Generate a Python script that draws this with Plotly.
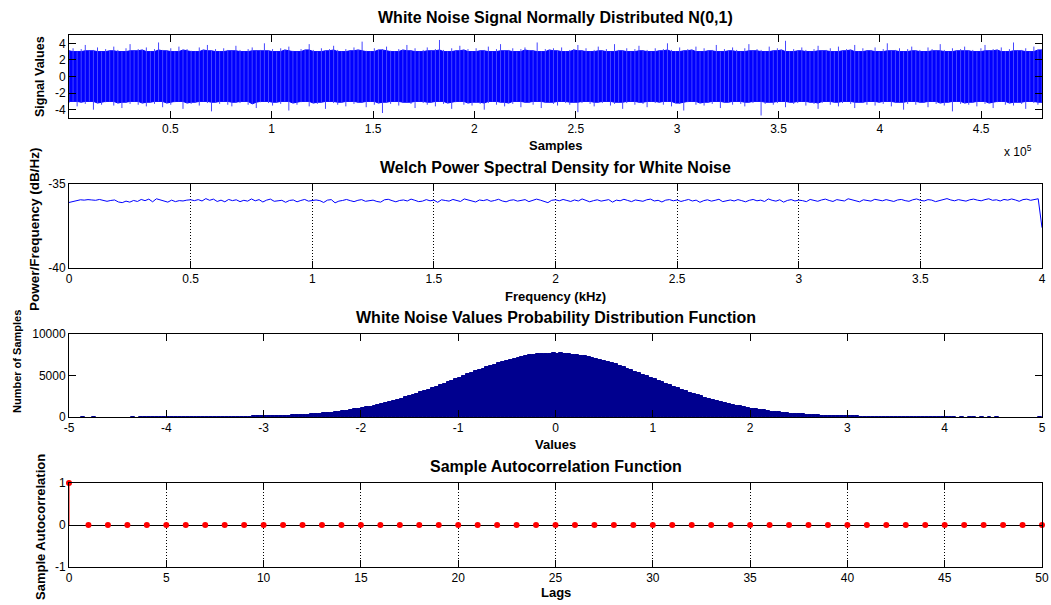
import numpy as np
import plotly.graph_objects as go

W, H = 1051, 605

# ---------------- data ----------------
n_samples = 480000
signal_upper = [
    3.1,3.4,3.0,3.3,3.8,3.1,3.2,3.5,3.0,3.3,3.1,3.6,3.2,3.0,3.4,3.9,3.1,3.3,3.2,3.5,
    3.0,3.3,4.1,3.2,3.1,3.4,3.0,3.6,3.2,3.3,3.1,3.0,3.5,3.2,3.8,3.1,3.3,3.0,3.4,3.2,
    3.1,3.7,3.2,3.0,3.3,3.5,3.1,3.2,4.0,3.1,3.3,3.0,3.4,3.2,3.6,3.1,3.0,3.3,3.2,3.9,
    3.2,3.0,3.4,3.1,3.3,3.7,3.2,3.0,3.3,3.1,3.5,3.2,4.2,3.1,3.0,3.4,3.2,3.3,3.6,3.1,
    3.0,3.3,3.2,3.8,3.1,3.4,3.0,3.2,3.5,3.1,3.3,4.4,3.2,3.0,3.4,3.1,3.7,3.2,3.3,3.0,
    3.4,3.1,3.2,3.6,3.0,3.3,3.9,3.1,3.2,3.4,3.0,3.3,3.5,3.2,3.1,4.1,3.0,3.3,3.2,3.4,
    3.1,3.5,3.0,3.2,3.3,3.8,3.1,3.4,3.0,3.2,3.6,3.1,3.3,3.0,3.9,3.2,3.1,3.4,3.0,3.3,
    3.7,3.1,3.2,3.0,3.4,3.1,3.3,4.0,3.2,3.0,3.5,3.1,3.3,3.2,3.6,3.0,3.4,3.1,3.2,3.8,
    3.0,3.3,3.1,3.5,3.2,3.0,3.4,3.9,3.1,3.3,3.2,3.0,3.6,3.1,3.4,3.2,4.3,3.0,3.3,3.1,
    3.5,3.2,3.0,3.3,3.7,3.1,3.2,3.4,3.0,3.6,3.1,3.3,3.2,3.8,3.0,3.4,3.1,3.2,3.5,3.0,
    3.3,4.0,3.1,3.2,3.4,3.0,3.3,3.6,3.1,3.2,3.0,3.5,3.3,3.1,3.9,3.2,3.0,3.4,3.1,3.3,
    3.6,3.1,3.2,3.0,3.4,3.8,3.1,3.3,3.2,3.5,3.0,3.3,4.1,3.1,3.2,3.4,3.0,3.6,3.2,3.3,
]
signal_lower = [
    -3.2,-3.0,-3.6,-3.1,-3.3,-3.0,-4.0,-3.2,-3.4,-3.1,-3.0,-3.5,-3.2,-3.8,-3.1,-3.3,-3.0,-3.4,-3.2,-3.6,
    -3.1,-3.3,-3.0,-3.7,-3.2,-3.4,-3.1,-3.0,-3.9,-3.2,-3.3,-3.1,-3.5,-3.0,-3.2,-4.2,-3.1,-3.3,-3.0,-3.4,
    -3.6,-3.1,-3.2,-3.0,-3.4,-3.3,-3.8,-3.1,-3.0,-3.2,-3.5,-3.1,-3.3,-3.0,-4.1,-3.2,-3.4,-3.1,-3.0,-3.6,
    -3.2,-3.3,-3.1,-3.9,-3.0,-3.2,-3.4,-3.1,-3.6,-3.0,-3.3,-3.2,-3.1,-3.7,-3.0,-3.4,-3.2,-4.4,-3.1,-3.3,
    -3.0,-3.5,-3.2,-3.1,-3.3,-3.8,-3.0,-3.2,-3.4,-3.1,-3.6,-3.0,-3.3,-3.2,-3.9,-3.1,-3.0,-3.4,-3.2,-3.5,
    -3.1,-3.3,-4.0,-3.2,-3.0,-3.4,-3.1,-3.6,-3.2,-3.3,-3.0,-3.7,-3.1,-3.2,-3.4,-3.0,-3.8,-3.2,-3.1,-3.3,
    -3.5,-3.0,-3.2,-3.4,-3.1,-4.3,-3.2,-3.0,-3.3,-3.6,-3.1,-3.2,-3.0,-3.5,-3.3,-3.1,-3.9,-3.2,-3.0,-3.4,
    -3.1,-3.3,-3.7,-3.0,-3.2,-3.1,-3.4,-3.0,-3.6,-3.2,-3.3,-4.1,-3.1,-3.0,-3.4,-3.2,-3.5,-3.1,-3.3,-3.0,
    -3.8,-3.2,-3.1,-3.4,-3.0,-3.3,-3.6,-3.1,-3.2,-3.0,-4.7,-3.3,-3.1,-3.4,-3.2,-3.0,-3.7,-3.1,-3.3,-3.2,
    -3.0,-3.5,-3.1,-3.3,-3.9,-3.2,-3.0,-3.4,-3.1,-3.6,-3.2,-3.0,-3.3,-3.8,-3.1,-3.2,-3.4,-3.0,-3.5,-3.1,
    -3.3,-3.0,-3.6,-3.2,-3.1,-4.0,-3.3,-3.0,-3.4,-3.2,-3.1,-3.7,-3.0,-3.3,-3.2,-3.5,-3.1,-4.2,-3.0,-3.3,
    -3.2,-3.4,-3.1,-3.6,-3.0,-3.3,-3.2,-3.8,-3.1,-3.0,-3.4,-3.2,-3.5,-3.1,-3.3,-3.9,-3.0,-3.2,-3.4,-3.1,
]

psd_db = [
    -36.10,-36.04,-35.97,-35.94,-35.96,-35.93,-35.95,-35.97,-35.92,-35.99,-36.03,-35.98,-35.95,-36.07,-36.11,-36.02,-36.08,-35.98,-36.04,-35.92,
    -35.99,-35.90,-36.06,-35.88,-35.96,-36.03,-36.08,-35.96,-36.05,-35.99,-36.01,-35.96,-35.94,-35.99,-35.93,-36.01,-35.87,-35.97,-35.90,-36.04,
    -35.96,-36.06,-35.92,-35.99,-35.94,-36.05,-35.97,-36.02,-35.89,-36.00,-35.93,-36.07,-35.96,-35.90,-36.03,-36.00,-35.97,-36.09,-35.98,-35.95,
    -36.06,-35.98,-35.92,-36.02,-36.00,-35.95,-35.99,-36.10,-35.96,-35.93,-36.12,-36.02,-35.98,-35.92,-35.99,-36.05,-35.97,-35.93,-36.03,-36.00,
    -35.96,-36.04,-36.08,-35.94,-35.91,-35.99,-36.06,-35.98,-35.95,-36.01,-35.90,-35.97,-36.05,-36.02,-35.93,-36.00,-35.96,-36.09,-35.94,-35.98,
    -36.02,-35.92,-35.97,-36.04,-35.89,-35.96,-36.00,-36.07,-35.95,-35.99,-35.93,-36.03,-35.98,-35.91,-36.01,-36.06,-35.97,-35.94,-36.02,-35.96,
    -35.93,-36.05,-35.99,-35.90,-35.96,-36.03,-36.11,-35.97,-35.94,-36.00,-35.92,-35.98,-36.04,-35.95,-36.01,-35.89,-35.97,-36.06,-35.99,-35.94,
    -36.02,-35.97,-35.93,-36.08,-35.96,-36.00,-35.91,-35.98,-36.05,-35.95,-35.99,-36.03,-35.94,-35.90,-36.01,-35.97,-36.07,-35.96,-35.93,-36.00,
    -35.95,-36.04,-35.98,-35.92,-36.01,-35.96,-36.09,-35.99,-35.94,-36.02,-35.97,-35.91,-36.05,-35.98,-35.95,-36.01,-35.93,-35.99,-36.06,-35.97,
    -35.92,-36.00,-35.96,-36.04,-35.89,-35.97,-36.02,-35.94,-36.08,-35.98,-35.93,-36.01,-35.96,-35.99,-36.05,-35.92,-35.97,-36.03,-35.95,-35.90,
    -35.98,-36.04,-35.93,-35.96,-36.01,-35.88,-35.95,-35.99,-36.06,-35.94,-35.97,-36.02,-35.91,-35.96,-36.00,-35.93,-35.98,-36.04,-35.95,-35.92,
    -35.99,-36.03,-35.94,-35.89,-35.97,-36.01,-35.93,-35.96,-36.05,-35.98,-35.92,-35.87,-35.95,-36.00,-35.93,-35.97,-36.02,-35.94,-35.90,-35.96,
    -36.00,-35.93,-35.88,-35.97,-35.94,-36.01,-35.92,-35.96,-35.89,-35.95,-36.03,-35.93,-35.90,-35.97,-35.92,-35.88,-37.60,
]
freq_max_khz = 4.0

hist_counts_neg = [
    0,0,0,1,0,0,1,0,0,0,0,0,0,0,0,0,1,0,1,1,
    1,2,1,2,3,3,4,4,5,5,6,8,8,10,11,13,16,17,20,23,
    24,30,33,37,44,48,56,62,72,79,91,100,116,126,145,158,181,198,225,244,
    278,301,340,368,414,447,499,538,600,645,716,769,851,910,1003,1070,1175,1250,1368,1452,
    1580,1676,1815,1922,2074,2188,2352,2476,2650,2783,2968,3110,3302,3452,3651,3806,4012,4170,4380,4540,
    4752,4912,5124,5280,5488,5640,5838,5985,6174,6308,6488,6610,6772,6880,7025,7115,7242,7310,7418,7465,
    7548,7574,7634,7635,7669,
]
hist_counts_pos = [
    7648,7655,7611,7596,7526,7488,7394,7334,7219,7138,7002,6902,6749,6632,6464,6332,6150,6007,5815,5663,
    5463,5304,5099,4936,4728,4564,4356,4193,3988,3829,3628,3474,3279,3132,2944,2805,2627,2498,2329,2209,
    2051,1942,1794,1696,1559,1472,1346,1270,1155,1089,984,928,833,786,700,662,584,554,484,462,
    399,383,326,306,271,250,219,203,176,163,140,130,111,102,88,82,70,64,54,50,
    42,39,32,30,24,23,18,18,14,13,11,10,7,8,5,6,4,4,3,2,
    3,1,2,0,1,0,1,1,0,1,0,1,0,1,0,0,0,0,0,0,
    0,0,0,0,1,
]
hist_range = (-5.0, 5.0)

acf = [1.0, 0.0012, -0.0008, 0.0005, -0.0015, 0.0009, -0.0003, 0.0011, -0.0006, 0.0002,
       -0.0010, 0.0007, -0.0004, 0.0013, -0.0009, 0.0001, 0.0006, -0.0012, 0.0004, -0.0002,
       0.0008, -0.0007, 0.0010, -0.0005, 0.0003, -0.0011, 0.0009, -0.0001, 0.0005, -0.0008,
       0.0006, 0.0002, -0.0013, 0.0007, -0.0004, 0.0011, -0.0006, 0.0003, -0.0009, 0.0001,
       0.0008, -0.0010, 0.0004, -0.0002, 0.0012, -0.0007, 0.0005, -0.0003, 0.0009, -0.0005,
       0.0002]

titles = ["White Noise Signal Normally Distributed N(0,1)",
          "Welch Power Spectral Density for White Noise",
          "White Noise Values Probability Distribution Function",
          "Sample Autocorrelation Function"]
xlabels = ["Samples", "Frequency (kHz)", "Values", "Lags"]
ylabels = ["Signal Values", "Power/Frequency (dB/Hz)", "Number of Samples", "Sample Autocorrelation"]

# ---------------- figure ----------------
FONT = "Liberation Sans, Arial, Helvetica, sans-serif"
BLUE = "#0000ff"
NAVY = "#00008f"

fig = go.Figure()

# Panel 1: signal band: solid core + thin spikes
up = np.array(signal_upper)
lo = np.array(signal_lower)
xs = np.linspace(1, n_samples, len(up))
up_pad = np.pad(up, 1, mode="edge")
lo_pad = np.pad(lo, 1, mode="edge")
core_up = np.minimum(np.minimum(up_pad[:-2], up_pad[1:-1]), up_pad[2:])
core_lo = np.maximum(np.maximum(lo_pad[:-2], lo_pad[1:-1]), lo_pad[2:])
fig.add_trace(go.Scatter(
    x=np.concatenate([xs, xs[::-1]]),
    y=np.concatenate([core_up, core_lo[::-1]]),
    fill="toself", fillcolor=BLUE, mode="lines",
    line=dict(color=BLUE, width=1), xaxis="x", yaxis="y", hoverinfo="skip"))
spx, spy = [], []
for xv, u, l in zip(xs, up, lo):
    spx += [xv, xv, None]
    spy += [l, u, None]
fig.add_trace(go.Scatter(x=spx, y=spy, mode="lines", line=dict(color="#4646ff", width=1),
                         xaxis="x", yaxis="y", hoverinfo="skip"))

# Panel 2: PSD
freqs = np.linspace(0, freq_max_khz, len(psd_db))
fig.add_trace(go.Scatter(x=freqs, y=psd_db, mode="lines",
                         line=dict(color=BLUE, width=1), xaxis="x2", yaxis="y2"))

# Panel 3: histogram
counts = hist_counts_neg + hist_counts_pos
nb = len(counts)
bw = (hist_range[1] - hist_range[0]) / nb
centers = hist_range[0] + bw * (np.arange(nb) + 0.5)
fig.add_trace(go.Bar(x=centers, y=[c if c > 0 else None for c in counts], width=bw,
                     marker=dict(color=NAVY, line=dict(color=NAVY, width=1)),
                     xaxis="x3", yaxis="y3"))

# Panel 4: autocorrelation stem
lags = np.arange(len(acf))
sx, sy = [], []
for l, v in zip(lags, acf):
    sx += [l, l, None]
    sy += [0, v, None]
fig.add_trace(go.Scatter(x=sx, y=sy, mode="lines", line=dict(color="red", width=1),
                         xaxis="x4", yaxis="y4", hoverinfo="skip"))
fig.add_trace(go.Scatter(x=lags, y=acf, mode="markers",
                         marker=dict(color="red", size=6), xaxis="x4", yaxis="y4",
                         cliponaxis=False))

# panel pixel boxes (top, bottom)
boxes = [(35, 118), (184, 268), (334, 417), (483, 567)]
xl, xr = 69, 1042
xdom = [xl / W, xr / W]

def ydom(t, b):
    return [1 - b / H, 1 - t / H]

TICKFONT = dict(family=FONT, size=12, color="black")
axis_common = dict(showline=True, linecolor="black", linewidth=1, mirror="ticks",
                   ticks="inside", ticklen=7, tickcolor="black", tickwidth=1,
                   tickfont=TICKFONT, automargin=False,
                   zeroline=False, showgrid=False, fixedrange=True)
GRID = dict(showgrid=True, gridcolor="black", griddash="1px,2px", gridwidth=1)

def labels(vals):
    return [("%g" % v).replace("\u2212", "-") for v in vals]

layout = dict(
    width=W, height=H, margin=dict(l=0, r=0, t=0, b=0, autoexpand=False),
    paper_bgcolor="white", plot_bgcolor="white", showlegend=False,
    bargap=0, font=dict(family=FONT, color="black"),
)

x1t = [50000, 100000, 150000, 200000, 250000, 300000, 350000, 400000, 450000]
layout["xaxis"] = dict(axis_common, domain=xdom, anchor="y", range=[1, n_samples],
                       tickvals=x1t, ticktext=labels([v / 1e5 for v in x1t]))
y1t = [-4, -2, 0, 2, 4]
layout["yaxis"] = dict(axis_common, domain=ydom(*boxes[0]), anchor="x", range=[-5, 5],
                       tickvals=y1t, ticktext=labels(y1t))
x2t = [0, 0.5, 1, 1.5, 2, 2.5, 3, 3.5, 4]
layout["xaxis2"] = dict(axis_common, domain=xdom, anchor="y2", range=[0, 4],
                        tickvals=x2t, ticktext=labels(x2t), **GRID)
y2t = [-40, -35]
layout["yaxis2"] = dict(axis_common, domain=ydom(*boxes[1]), anchor="x2", range=[-40, -35],
                        tickvals=y2t, ticktext=labels(y2t))
x3t = list(range(-5, 6))
layout["xaxis3"] = dict(axis_common, domain=xdom, anchor="y3", range=[-5, 5],
                        tickvals=x3t, ticktext=labels(x3t))
y3t = [0, 5000, 10000]
layout["yaxis3"] = dict(axis_common, domain=ydom(*boxes[2]), anchor="x3", range=[0, 10000],
                        tickvals=y3t, ticktext=labels(y3t))
x4t = list(range(0, 51, 5))
layout["xaxis4"] = dict(axis_common, domain=xdom, anchor="y4", range=[0, 50],
                        tickvals=x4t, ticktext=labels(x4t), **GRID)
y4t = [-1, 0, 1]
layout["yaxis4"] = dict(axis_common, domain=ydom(*boxes[3]), anchor="x4", range=[-1, 1],
                        tickvals=y4t, ticktext=labels(y4t), zeroline=True,
                        zerolinecolor="black", zerolinewidth=1)

fig.update_layout(**layout)

# annotations: titles and labels
ann = []
cx = (xl + xr) / 2 / W
title_y = [18, 167, 317, 466]
xlabel_y = [145, 296, 444, 592]
ylabel_pos = [(40, 77), (34, 229), (17, 362), (40, 527)]
ylabel_size = [12.5, 13.5, 11, 13]
for i in range(4):
    ann.append(dict(text="<b>%s</b>" % titles[i], x=cx, y=1 - title_y[i] / H, xref="paper",
                    yref="paper", showarrow=False, xanchor="center", yanchor="middle",
                    font=dict(family=FONT, size=16, color="black")))
    ann.append(dict(text="<b>%s</b>" % xlabels[i], x=cx, y=1 - xlabel_y[i] / H, xref="paper",
                    yref="paper", showarrow=False, xanchor="center", yanchor="middle",
                    font=dict(family=FONT, size=13, color="black")))
    px, py = ylabel_pos[i]
    ann.append(dict(text="<b>%s</b>" % ylabels[i], x=px / W, y=1 - py / H, xref="paper",
                    yref="paper", showarrow=False, xanchor="center", yanchor="middle",
                    textangle=-90, font=dict(family=FONT, size=ylabel_size[i], color="black")))
ann.append(dict(text="x 10<sup>5</sup>", x=1034 / W, y=1 - 151 / H, xref="paper", yref="paper",
                showarrow=False, xanchor="right", yanchor="middle",
                font=dict(family=FONT, size=12, color="black")))
fig.update_layout(annotations=ann)

fig.write_html("out.html")
